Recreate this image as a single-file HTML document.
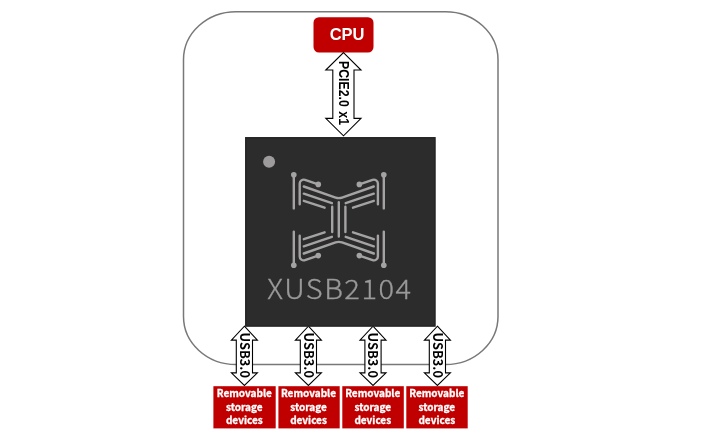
<!DOCTYPE html>
<html lang="en">
<head>
<meta charset="utf-8">
<title>XUSB2104 block diagram</title>
<style>
  html, body { margin: 0; padding: 0; background: #ffffff; }
  body { width: 720px; height: 440px; overflow: hidden; position: relative; }
  svg { position: absolute; left: 0; top: 0; display: block; will-change: transform; -webkit-font-smoothing: antialiased; }
  .arial { font-family: "Liberation Sans", Arial, Helvetica, sans-serif; font-weight: bold; }
  .src { font-family: "Noto Sans CJK SC", "Noto Sans CJK JP", "Liberation Sans", sans-serif; }
</style>
</head>
<body>
<svg width="720" height="440" viewBox="0 0 720 440">
  <!-- outer rounded frame -->
  <rect x="183.5" y="11.65" width="314.5" height="352.95" rx="52.5" ry="48" fill="#ffffff" stroke="#787878" stroke-width="1.5"/>

  <!-- CPU box -->
  <rect x="313.5" y="17.2" width="60" height="35.3" rx="5.5" ry="5.5" fill="#c00000"/>
  <text class="arial" x="347.1" y="40" font-size="16.5" fill="#ffffff" text-anchor="middle">CPU</text>

  <!-- PCIE arrow -->
  <g id="pcie">
    <path d="M343.5 52.6 L361 70 L354 70 L354 118.4 L361 118.4 L343.5 135.8 L325.8 118.4 L332.8 118.4 L332.8 70 L325.8 70 Z" fill="#ffffff" stroke="#000000" stroke-width="1.1"/>
    <text class="arial" font-size="14" fill="#000000" text-anchor="middle" word-spacing="1.2" transform="translate(338.8 93) rotate(90) scale(0.88 1)">PCIE2.0 x1</text>
  </g>


  <!-- USB arrows -->
  <g id="usb1">
    <path d="M0 326.2 L13 340.1 L8.1 340.1 L8.1 372.9 L13 372.9 L0 385.4 L-13 372.9 L-8.1 372.9 L-8.1 340.1 L-13 340.1 Z" transform="translate(244.4 0)" fill="#ffffff" stroke="#000000" stroke-width="1.1"/>
    <text class="src" font-size="12.85" font-weight="700" fill="#000000" text-anchor="middle" transform="translate(239.6 355.2) rotate(90) scale(1 1.03)">USB3.0</text>
  </g>
  <g id="usb2">
    <path d="M0 326.2 L13 340.1 L8.1 340.1 L8.1 372.9 L13 372.9 L0 385.4 L-13 372.9 L-8.1 372.9 L-8.1 340.1 L-13 340.1 Z" transform="translate(308.4 0)" fill="#ffffff" stroke="#000000" stroke-width="1.1"/>
    <text class="src" font-size="12.85" font-weight="700" fill="#000000" text-anchor="middle" transform="translate(303.6 355.2) rotate(90) scale(1 1.03)">USB3.0</text>
  </g>
  <g id="usb3">
    <path d="M0 326.2 L13 340.1 L8.1 340.1 L8.1 372.9 L13 372.9 L0 385.4 L-13 372.9 L-8.1 372.9 L-8.1 340.1 L-13 340.1 Z" transform="translate(373 0)" fill="#ffffff" stroke="#000000" stroke-width="1.1"/>
    <text class="src" font-size="12.85" font-weight="700" fill="#000000" text-anchor="middle" transform="translate(368.2 355.2) rotate(90) scale(1 1.03)">USB3.0</text>
  </g>
  <g id="usb4">
    <path d="M0 326.2 L13 340.1 L8.1 340.1 L8.1 372.9 L13 372.9 L0 385.4 L-13 372.9 L-8.1 372.9 L-8.1 340.1 L-13 340.1 Z" transform="translate(437.4 0)" fill="#ffffff" stroke="#000000" stroke-width="1.1"/>
    <text class="src" font-size="12.85" font-weight="700" fill="#000000" text-anchor="middle" transform="translate(432.6 355.2) rotate(90) scale(1 1.03)">USB3.0</text>
  </g>

  <!-- chip -->
  <g id="chip">
    <rect x="245.15" y="137.1" width="190.35" height="189.5" fill="#2c2c2c"/>
    <rect x="245.9" y="137.85" width="188.85" height="188" fill="none" stroke="#262626" stroke-width="1.5"/>
    <circle cx="269.1" cy="161.7" r="6" fill="#9e9b9d"/>
    <g id="logo" fill="none" stroke="#a5a2a3" stroke-width="2.4" stroke-linecap="round" stroke-linejoin="round">
      <path d="M293.8 174.7 L293.8 208.4 M299.7 204.2 L299.7 183.61 A4 4 0 0 1 305 179.83 L318.25 184.4 M303.8 193.7 L331.9 203.2 M303.8 200.8 L324.6 207.65 M293.8 265.3 L293.8 231.6 M299.7 235.8 L299.7 256.39 A4 4 0 0 0 305 260.17 L318.25 255.6 M303.8 246.3 L331.9 236.8 M303.8 239.2 L324.6 232.35 M383.8 174.7 L383.8 208.4 M377.9 204.2 L377.9 183.61 A4 4 0 0 0 372.6 179.83 L359.35 184.4 M373.8 193.7 L345.7 203.2 M373.8 200.8 L353 207.65 M383.8 265.3 L383.8 231.6 M377.9 235.8 L377.9 256.39 A4 4 0 0 1 372.6 260.17 L359.35 255.6 M373.8 246.3 L345.7 236.8 M373.8 239.2 L353 232.35 M303.8 186.5 L335.6 197.54 Q338.8 198.65 342 197.54 L373.8 186.5 M303.8 253.5 L335.6 242.46 Q338.8 241.35 342 242.46 L373.8 253.5 M338.8 202.3 V236.6 M332.2 206.8 V232 M345.4 206.8 V232"/>
      <circle cx="293.8" cy="174.7" r="2.8" fill="#a5a2a3" stroke="none"/>
      <circle cx="318.25" cy="184.4" r="2.8" fill="#a5a2a3" stroke="none"/>
      <circle cx="293.8" cy="265.3" r="2.8" fill="#a5a2a3" stroke="none"/>
      <circle cx="318.25" cy="255.6" r="2.8" fill="#a5a2a3" stroke="none"/>
      <circle cx="383.8" cy="174.7" r="2.8" fill="#a5a2a3" stroke="none"/>
      <circle cx="359.35" cy="184.4" r="2.8" fill="#a5a2a3" stroke="none"/>
      <circle cx="383.8" cy="265.3" r="2.8" fill="#a5a2a3" stroke="none"/>
      <circle cx="359.35" cy="255.6" r="2.8" fill="#a5a2a3" stroke="none"/>
    </g>
    <text class="src" x="0" y="0" font-size="26.5" font-weight="300" fill="#9b9999" stroke="#9b9999" stroke-width="0.35" text-anchor="middle" letter-spacing="1.4" transform="translate(339.9 299.2) scale(1.095 1)">XUSB2104</text>
  </g>

  <!-- storage boxes -->
  <g id="boxes" class="src" font-size="10" font-weight="700" fill="#ffffff" stroke="#ffffff" stroke-width="0.3" text-anchor="middle">
    <rect x="213.4" y="386.2" width="62.3" height="42.2" fill="#c00000" stroke="none"/>
    <text x="244.30" y="396.6">Removable</text>
    <text x="244.30" y="411.0">storage</text>
    <text x="244.30" y="423.6">devices</text>
    <rect x="278.4" y="386.2" width="61.3" height="42.2" fill="#c00000" stroke="none"/>
    <text x="308.50" y="396.6">Removable</text>
    <text x="308.50" y="411.0">storage</text>
    <text x="308.50" y="423.6">devices</text>
    <rect x="342.3" y="386.2" width="61.5" height="42.2" fill="#c00000" stroke="none"/>
    <text x="372.75" y="396.6">Removable</text>
    <text x="372.75" y="411.0">storage</text>
    <text x="372.75" y="423.6">devices</text>
    <rect x="406.3" y="386.2" width="61.4" height="42.2" fill="#c00000" stroke="none"/>
    <text x="436.80" y="396.6">Removable</text>
    <text x="436.80" y="411.0">storage</text>
    <text x="436.80" y="423.6">devices</text>
  </g>
</svg>
</body>
</html>
